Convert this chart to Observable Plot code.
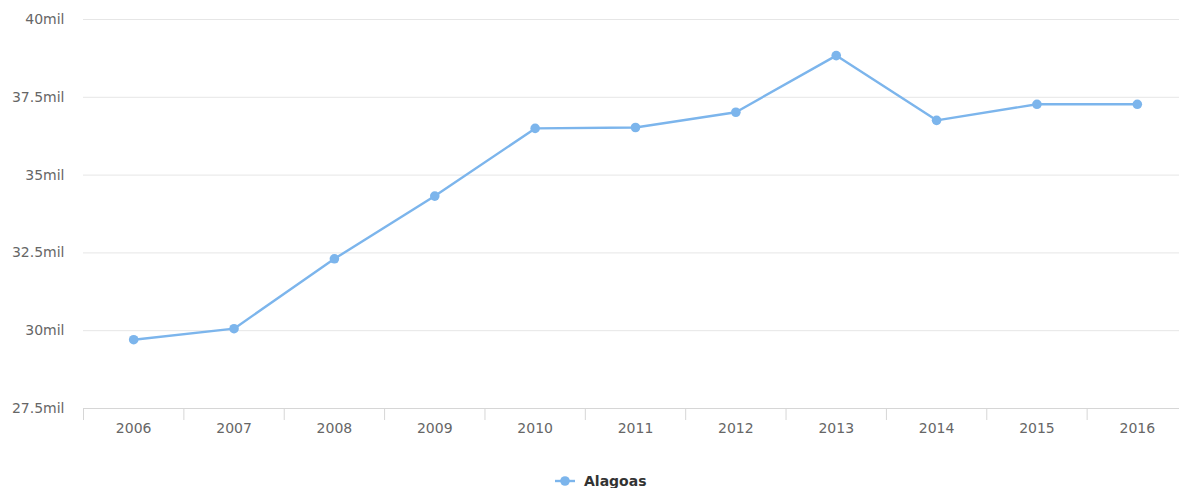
<!DOCTYPE html>
<html>
<head>
<meta charset="utf-8">
<script src="https://cdn.jsdelivr.net/npm/d3@7"></script>
<script src="https://cdn.jsdelivr.net/npm/@observablehq/plot@0.6"></script>
<style>
  html, body { margin: 0; padding: 0; background: #fff; overflow: hidden; }
  #chart { width: 1188px; }
  #legend { position: relative; height: 43px; font-family: "DejaVu Sans", sans-serif; }
  .item { position: absolute; left: 555px; top: 28px; display: flex; align-items: center; gap: 9px;
          font-size: 14px; font-weight: bold; color: #333; line-height: 16px; }
</style>
</head>
<body>
<div id="chart"></div>
<div id="legend"></div>
<script>
const seriesName = "Alagoas";
const years = [2006, 2007, 2008, 2009, 2010, 2011, 2012, 2013, 2014, 2015, 2016];
const values = [29710, 30065, 32310, 34325, 36500, 36530, 37020, 38840, 36760, 37275, 37275];
const yTicks = [27500, 30000, 32500, 35000, 37500, 40000];
const color = "#7cb5ec";

const data = years.map((year, i) => ({year, value: values[i]}));
const boundaries = years.map(y => y - 0.5).concat([years[years.length - 1] + 0.5]);
const fmtY = d => String(d / 1000) + "mil";

const chart = Plot.plot({
  width: 1188,
  height: 445,
  marginTop: 19,
  marginBottom: 37,
  marginLeft: 83,
  marginRight: 1,
  style: {fontFamily: "DejaVu Sans, sans-serif", fontSize: "14px", color: "#666", background: "#fff"},
  x: {type: "linear", domain: [boundaries[0], boundaries[boundaries.length - 1]]},
  y: {domain: [27500, 40000]},
  marks: [
    Plot.ruleY(yTicks.slice(1), {stroke: "#e6e6e6", strokeWidth: 1}),
    Plot.ruleY([27500], {stroke: "#d6d6d6", strokeWidth: 1}),
    Plot.axisY({ticks: yTicks, tickFormat: fmtY, tickSize: 0, tickPadding: 19, fill: "#666", label: null}),
    Plot.axisX({ticks: years, tickFormat: d => String(d), tickSize: 0, tickPadding: 15, fill: "#666", label: null}),
    Plot.axisX({ticks: boundaries, tickFormat: () => "", tickSize: 12, stroke: "#d6d6d6", label: null}),
    Plot.line(data, {x: "year", y: "value", stroke: color, strokeWidth: 2.4, curve: "linear"}),
    Plot.dot(data, {x: "year", y: "value", fill: color, r: 4.8})
  ]
});
document.getElementById("chart").append(chart);

const item = document.createElement("div");
item.className = "item";
item.innerHTML = `<svg width="20" height="12"><line x1="0" x2="20" y1="6" y2="6" stroke="${color}" stroke-width="2.4"/><circle cx="10" cy="6" r="4.8" fill="${color}"/></svg><span>${seriesName}</span>`;
document.getElementById("legend").append(item);
</script>
</body>
</html>
